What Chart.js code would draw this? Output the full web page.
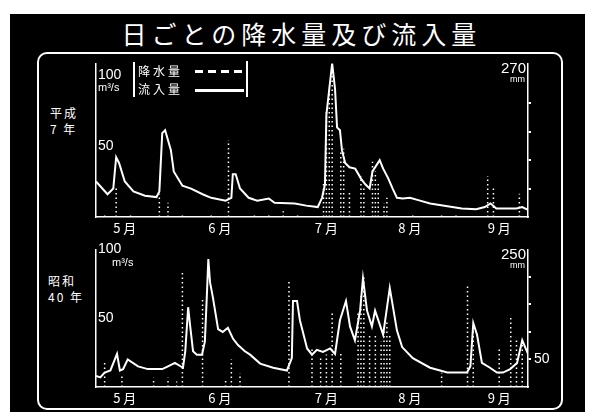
<!DOCTYPE html>
<html>
<head>
<meta charset="utf-8">
<script src="https://cdn.jsdelivr.net/npm/chart.js@4"></script>
<style>
  body { margin: 0; width: 595px; height: 412px; background: #fff; position: relative; overflow: hidden;
         font-family: "Noto Sans CJK JP", sans-serif; }
  #board { position: absolute; left: 10px; top: 14px; width: 575px; height: 398px; background: #000; }
  #title { position: absolute; left: 4px; top: 15px; width: 595px; text-align: center; color: #fff;
           font-size: 25px; letter-spacing: 5px; line-height: 36px; }
  #frame { position: absolute; left: 37px; top: 52px; width: 522px; height: 354px;
           border: 2px solid #fff; border-radius: 10px; }
  .side { position: absolute; color: #fff; font-size: 12px; line-height: 16px; letter-spacing: 2px; white-space: pre; }
  .panel { position: absolute; left: 60px; }
  .bar { position: absolute; width: 2px; background: #fff; }
  .leg { position: absolute; color: #fff; font-size: 12px; line-height: 15px; letter-spacing: 3px; }
</style>
</head>
<body>
<div id="board"></div>
<div id="title">日ごとの降水量及び流入量</div>
<div id="frame"></div>
<div class="side" style="left:50px;top:105px">平成
7 年</div>
<div class="side" style="left:48px;top:273px">昭和
40 年</div>

<canvas id="c1" class="panel" width="500" height="188" style="top:52px"></canvas>
<canvas id="c2" class="panel" width="500" height="172" style="top:238px"></canvas>

<div class="bar" style="left:133px;top:62px;height:35px"></div>
<div class="bar" style="left:246px;top:61px;height:36px"></div>
<div class="leg" style="left:138px;top:63px">降水量</div>
<div class="leg" style="left:138px;top:81px">流入量</div>
<div style="position:absolute;left:195px;top:70px;width:47px;height:3px;
  background:repeating-linear-gradient(90deg,#fff 0 8px,transparent 8px 13px)"></div>
<div style="position:absolute;left:195px;top:89px;width:49px;height:3px;background:#fff"></div>

<script>
// x軸: 5月初めからの日数 (0-150)
const monthTicks = [10, 43, 80, 109, 140];
const monthLabels = ["5 月", "6 月", "7 月", "8 月", "9 月"];

// 平成7年 流入量 (m3/s)
const flow1Day = [0, 4, 6, 7, 8, 10, 13, 17, 21, 22, 23, 24, 26, 27, 30, 33, 37, 40, 45, 47, 47.5, 48.5, 50, 53, 56, 60, 62, 69, 73, 77,
  78.5, 79.5, 80, 81, 82, 83, 83.7, 84.7, 85.4, 86.5, 88, 90, 92, 93.5, 95, 96, 98.5, 99.7, 101.5, 103, 104.5, 106.5, 109, 112.5, 116,
  127, 132, 135, 137, 139, 146, 148, 150];
const flow1Val = [25, 16, 20, 42, 38, 25, 18, 15, 14, 18, 59, 61, 47, 32, 22, 20, 16, 13.5, 11.5, 13.5, 30, 30, 20, 13.5, 11.5, 13, 10, 9.5, 8, 7,
  13.5, 23, 72, 90, 108, 90, 63, 61, 47, 38, 35, 34, 27, 23, 20, 32, 40, 34, 27, 20, 13.5, 13, 13.5, 11.5, 9.5,
  6, 5.5, 7, 9.5, 6, 6, 7, 5];

// 平成7年 降水量 (mm)
const rain1Day = [3, 7, 12, 22, 25, 30, 40, 46, 55, 60, 65, 70, 79, 80, 81, 82, 85, 86, 88, 92, 93, 96, 97, 98, 100, 101, 110, 120, 125, 136, 138, 147];
const rain1Val = [6, 51, 5, 41, 25, 8, 6, 135, 8, 5, 10, 6, 60, 188, 230, 265, 115, 120, 46, 72, 51, 97, 80, 58, 24, 34, 6, 8, 5, 72, 55, 41];

// 昭和40年 流入量 (m3/s)
const flow2Day = [0, 1.5, 3, 5, 7.3, 8.3, 9.4, 11, 14.6, 18, 23, 25, 27.4, 30.2, 31, 32, 32.6, 33.7, 35, 36.8, 37.8, 38.5, 39, 39.6, 40.6,
  42.4, 44, 45.8, 47.6, 49.3, 51.7, 53.5, 57, 61.5, 66.3, 68, 68.4, 69.8, 70.8, 73.3, 75, 76.7, 78.8, 81.3, 83, 84.7, 86.8, 88.2, 89.9,
  91.7, 92.7, 94.1, 95.8, 96.9, 98.6, 99.7, 102, 104.5, 106.3, 110, 116, 122, 128.8, 130, 131, 132.3, 134, 136.8, 139.2, 141.3, 143.8,
  146.2, 148, 149, 150];
const flow2Val = [8, 7, 10.5, 12, 24, 12, 13, 20, 15, 13, 13, 15, 17.5, 14, 26, 58, 46, 26, 23.5, 23.5, 33, 67, 93, 76, 65,
  42, 40, 43, 35, 30.5, 26, 23.5, 17, 14, 12, 21, 62.5, 62.5, 48.5, 28, 23.5, 27, 25.5, 28, 24, 48.5, 62.5, 44, 34,
  55.5, 79, 55.5, 44, 55.5, 45, 38, 72, 41, 29, 21, 14, 10.5, 10.5, 15, 46.5, 38, 17.5, 14, 10.5, 10.5, 13,
  17.5, 34, 29, 24];

// 昭和40年 降水量 (mm)
const rain2Day = [3, 9, 20, 25, 28, 30, 37, 45, 47, 50, 67, 75, 78, 80, 82, 85, 91, 92, 93, 95, 97, 99, 100, 101, 102, 120, 129, 131, 140, 144, 146, 148];
const rain2Val = [45, 24, 17, 17, 10, 207, 163, 15, 50, 25, 194, 68, 56, 59, 137, 61, 139, 165, 203, 95, 95, 82, 108, 122, 95, 26, 186, 108, 68, 128, 90, 85];

function pairs(days, vals) {
  return days.map((d, i) => ({ x: d, y: vals[i] }));
}

// 降水量は日ごとの縦の点線
function rainSegments(days, vals) {
  const pts = [];
  days.forEach((d, i) => {
    pts.push({ x: d, y: 0 }, { x: d, y: vals[i] }, { x: d, y: null });
  });
  return pts;
}

// 単位と右軸上端の目盛り文字
const unitLabels = {
  id: "unitLabels",
  afterDraw(chart, args, opts) {
    const ctx = chart.ctx;
    const y = chart.scales.y, y2 = chart.scales.y2;
    ctx.save();
    ctx.fillStyle = "#fff";
    ctx.textBaseline = "top";
    ctx.textAlign = "left";
    ctx.font = '11px "Liberation Sans"';
    ctx.fillText("m³/s", y.right + opts.unitDx, y.getPixelForValue(100) + 8);
    ctx.textAlign = "right";
    ctx.font = '15px "Liberation Sans"';
    ctx.fillText(opts.top, y2.left - 2, chart.chartArea.top - 2);
    ctx.font = '9px "Liberation Sans"';
    ctx.fillText("mm", y2.left - 3, chart.chartArea.top + 12);
    ctx.restore();
  }
};

function makePanel(id, flow, rain, yMax, y2Max, y2Labels, topLabel, padTop, unitDx) {
  new Chart(document.getElementById(id), {
    type: "line",
    data: {
      datasets: [
        { data: flow, yAxisID: "y", borderColor: "#fff", borderWidth: 2, pointRadius: 0, tension: 0 },
        { data: rain, yAxisID: "y2", borderColor: "#fff", borderWidth: 1.5, borderDash: [1.5, 3],
          pointRadius: 0, spanGaps: false }
      ]
    },
    options: {
      responsive: false,
      animation: false,
      layout: { padding: { top: padTop, left: 0, right: 0, bottom: 0 } },
      plugins: { legend: { display: false }, tooltip: { enabled: false }, unitLabels: { top: topLabel, unitDx: unitDx } },
      scales: {
        x: {
          type: "linear", min: 0, max: 150,
          grid: { display: false, drawTicks: false },
          border: { color: "#fff", width: 1.5 },
          ticks: {
            color: "#fff", padding: 3, maxRotation: 0, autoSkip: false,
            font: { family: "Noto Sans CJK JP", size: 13 },
            callback: v => { const i = monthTicks.indexOf(v); return i < 0 ? "" : monthLabels[i]; }
          },
          afterBuildTicks: s => { s.ticks = monthTicks.map(v => ({ value: v })); },
          afterFit: s => { s.height = 23; }
        },
        y: {
          position: "left", min: 0, max: yMax,
          grid: { display: false, drawTicks: false },
          border: { color: "#fff", width: 1.5 },
          ticks: { mirror: true, padding: 2, color: "#fff", font: { family: "Liberation Sans", size: 14 } },
          afterBuildTicks: s => { s.ticks = [{ value: 50 }, { value: 100 }]; },
          afterFit: s => { s.width = 36; }
        },
        y2: {
          position: "right", min: 0, max: y2Max,
          grid: { display: true, drawOnChartArea: false, drawTicks: true, tickLength: 3, color: "#fff", lineWidth: 2 },
          border: { color: "#fff", width: 1.5 },
          ticks: {
            padding: 3, color: "#fff", font: { family: "Liberation Sans", size: 14 },
            callback: v => y2Labels.includes(v) ? String(v) : ""
          },
          afterBuildTicks: s => { s.ticks = [50, 100, 150, 200].map(v => ({ value: v })); },
          afterFit: s => { s.width = 32; }
        }
      }
    },
    plugins: [unitLabels]
  });
}

makePanel("c1", pairs(flow1Day, flow1Val), rainSegments(rain1Day, rain1Val), 108, 270, [], "270", 5, 2);
makePanel("c2", pairs(flow2Day, flow2Val), rainSegments(rain2Day, rain2Val), 100, 250, [50], "250", 3, 16);
</script>
</body>
</html>
